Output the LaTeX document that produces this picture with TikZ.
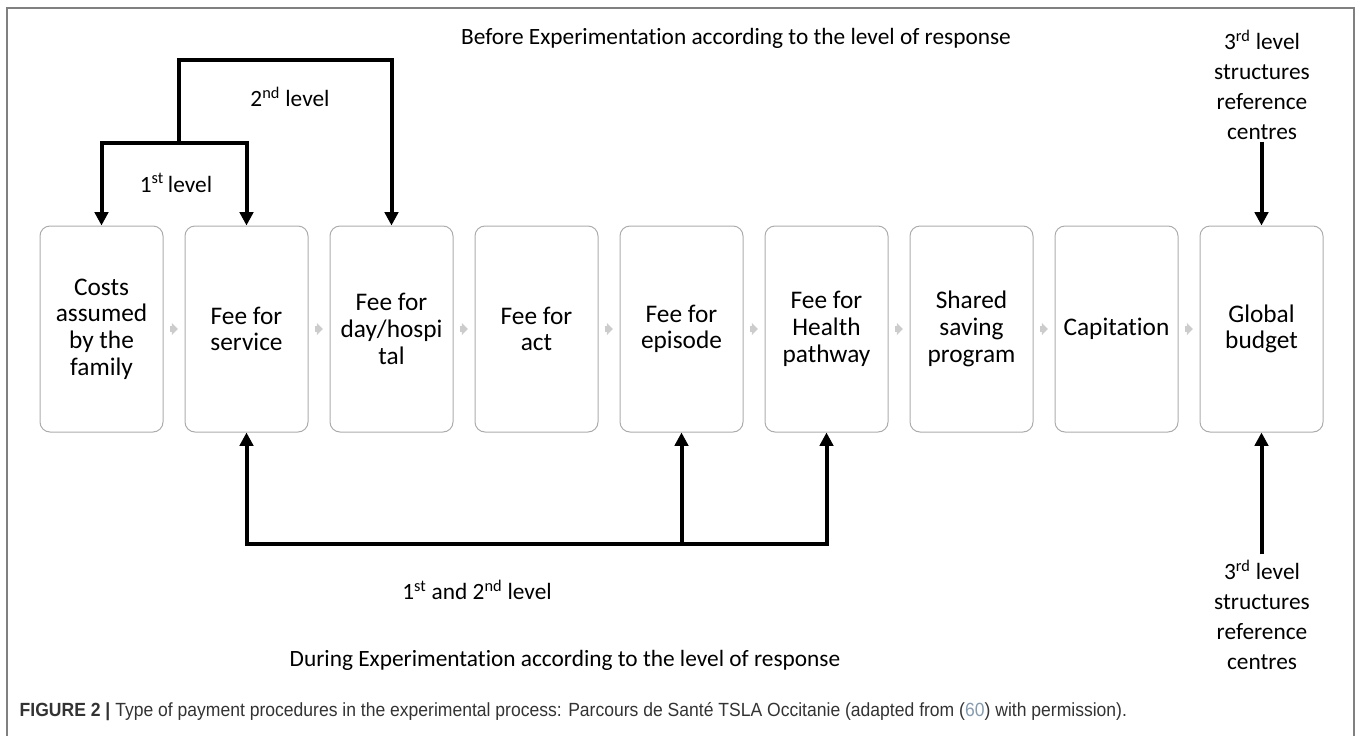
\documentclass[tikz,border=0pt]{standalone}
\usepackage{fontspec}
\setmainfont[Ligatures=NoCommon]{Carlito}
\newfontfamily\capfont[FakeStretch=0.92]{Liberation Sans}
\usetikzlibrary{arrows.meta,positioning}
\definecolor{refcol}{RGB}{135,155,175}

\begin{document}
\begin{tikzpicture}[x=0.75pt,y=0.75pt,yscale=-1,xscale=1,
  payment/.style={draw=gray!65, line width=0.75pt, rounded corners=7.5pt,
    minimum width=92.25pt, minimum height=154.5pt, align=center,
    font=\fontsize{19}{20}\selectfont},
  chev/.style={draw=gray!40, line width=4pt, shorten <=4.5pt, shorten >=5pt,
    -{Triangle[length=4.5pt,width=9pt]}},
  lvl/.style={line width=3pt, -{Triangle[length=10pt,width=10pt]}},
  lbl/.style={align=center, font=\fontsize{17.5}{22.5}\selectfont}]
\useasboundingbox (0,0) rectangle (1357,736);

%Shape: Frame
\draw [color=gray, line width=1.1pt] (7,736) -- (7,8) -- (1354,8) -- (1354,736) ;

% Payment boxes
\node [payment] (fam) at (101.5,329) {Costs\\assumed\\by the\\family};
\node [payment, right=15.75pt of fam] (serv) {Fee for\\service};
\node [payment, right=15.75pt of serv] (day) {Fee for\\day/hospi\\tal};
\node [payment, right=15.75pt of day] (act) {Fee for\\act};
\node [payment, right=15.75pt of act] (epis) {Fee for\\episode};
\node [payment, right=15.75pt of epis] (path) {Fee for\\Health\\pathway};
\node [payment, right=15.75pt of path] (shar) {Shared\\saving\\program};
\node [payment, right=15.75pt of shar] (capi) {Capitation};
\node [payment, right=15.75pt of capi] (glob) {Global\\budget};

% Grey arrows between boxes
\draw [chev] (fam) -- (serv);
\draw [chev] (serv) -- (day);
\draw [chev] (day) -- (act);
\draw [chev] (act) -- (epis);
\draw [chev] (epis) -- (path);
\draw [chev] (path) -- (shar);
\draw [chev] (shar) -- (capi);
\draw [chev] (capi) -- (glob);

% Text Node
\node [lbl] (before) at (736,38) {Before Experimentation according to the level of response};
% Text Node
\node [lbl] (during) at (565,660) {During Experimentation according to the level of response};
% Text Node
\node [lbl] (second) at (290,97) {2\textsuperscript{nd} level};
% Text Node
\node [lbl] (first) at (176,183) {1\textsuperscript{st}\,level};
% Text Node
\node [lbl] (both) at (477,590) {1\textsuperscript{st} and 2\textsuperscript{nd} level};
% Text Node
\node [lbl, inner sep=1pt] (thirdup) at (1262,85) {3\textsuperscript{rd} level\\structures\\reference\\centres};
% Text Node
\node [lbl, inner sep=4pt] (thirddown) at (1262,615) {3\textsuperscript{rd} level\\structures\\reference\\centres};

% Connection: before experimentation
\coordinate (fork1) at (179,143);
\coordinate (fork2) at (179,60);
\draw [lvl] (fork1) -| (fam.north);
\draw [lvl] (fork1) -| (serv.north);
\draw [lvl] (fork1) -- (fork2) -| (day.north);
\draw [lvl] (thirdup.south -| glob.north) -- (glob.north);

% Connection: during experimentation
\path (epis.south) ++(0,111) coordinate (fork3);
\draw [lvl] (fork3) -| (serv.south);
\draw [lvl] (fork3) -- (epis.south);
\draw [lvl] (fork3) -| (path.south);
\draw [lvl] (thirddown.north -| glob.south) -- (glob.south);

% Caption
\node [anchor=west, text=black!80, font=\capfont\fontsize{14.3}{16}\selectfont] (caption) at (15,712)
  {\textbf{FIGURE 2 |} Type of payment procedures in the experimental process: Parcours de Santé TSLA Occitanie (adapted from ({\color{refcol}60}) with permission).};

\end{tikzpicture}
\end{document}
